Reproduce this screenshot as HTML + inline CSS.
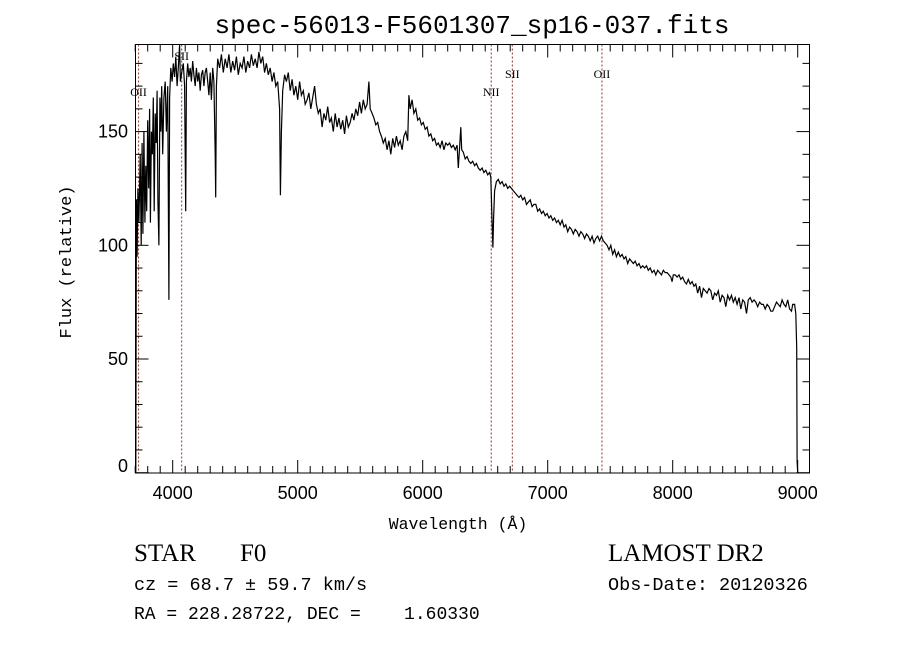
<!DOCTYPE html>
<html><head><meta charset="utf-8"><style>
html,body{margin:0;padding:0;background:#fff;}
svg{display:block;}
</style></head><body>
<svg width="900" height="649" viewBox="0 0 900 649" id="chart">
<rect x="0" y="0" width="900" height="649" fill="#fff"/>
<text x="472" y="33" text-anchor="middle" font-family="Liberation Mono, monospace" font-size="26">spec-56013-F5601307_sp16-037.fits</text>
<g id="lines"></g>
<g id="axes"></g>
<polyline id="spec" fill="none" stroke="#000" stroke-width="1.2"/>
<rect x="135.5" y="44.5" width="674" height="428.5" fill="none" stroke="#000" stroke-width="1"/>
<text x="458" y="529" text-anchor="middle" font-family="Liberation Mono, monospace" font-size="16.5">Wavelength (Å)</text>
<text transform="translate(71,262) rotate(-90)" text-anchor="middle" font-family="Liberation Mono, monospace" font-size="17">Flux (relative)</text>
<text x="134" y="561" font-family="Liberation Serif, serif" font-size="25">STAR</text>
<text x="240" y="561" font-family="Liberation Serif, serif" font-size="25">F0</text>
<text x="134" y="590" font-family="Liberation Mono, monospace" font-size="18.5">cz = 68.7 ± 59.7 km/s</text>
<text x="134" y="619" font-family="Liberation Mono, monospace" font-size="18" xml:space="preserve">RA = 228.28722, DEC =    1.60330</text>
<text x="608" y="561" font-family="Liberation Serif, serif" font-size="25">LAMOST DR2</text>
<text x="608" y="590" font-family="Liberation Mono, monospace" font-size="18.5">Obs-Date: 20120326</text>
</svg>
<script>
const xTicks=[4000,5000,6000,7000,8000,9000];
const yTicks=[0,50,100,150];
const lineNames=["OII","SII","NII","SII","OII"];
const lineWaves=[3727,4072,6548,6717,7434];
const lineLabelY=[96,60,96,78,78];
const waves=[3700,3705,3710,3715,3722,3730,3740,3748,3755,3762,3770,3778,3785,3792,3800,3808,3815,3822,3830,3838,3845,3852,3860,3868,3875,3882,3890,3898,3905,3912,3920,3930,3940,3950,3960,3970,3975,3985,3995,4005,4015,4025,4035,4045,4055,4062,4072,4085,4095,4104,4110,4120,4130,4140,4150,4160,4170,4180,4190,4200,4210,4220,4230,4240,4250,4260,4270,4280,4290,4300,4310,4320,4330,4340,4344,4350,4360,4375,4390,4405,4420,4435,4450,4465,4480,4495,4510,4525,4540,4555,4570,4585,4600,4615,4630,4645,4660,4675,4690,4705,4720,4735,4750,4765,4780,4795,4810,4825,4840,4855,4862,4870,4880,4895,4910,4925,4940,4955,4970,4985,5000,5015,5030,5045,5060,5075,5090,5105,5120,5135,5150,5165,5180,5195,5210,5225,5240,5255,5270,5285,5300,5315,5330,5345,5360,5375,5390,5405,5420,5435,5450,5465,5480,5495,5510,5525,5540,5555,5570,5580,5595,5610,5625,5640,5655,5670,5685,5700,5715,5730,5745,5760,5775,5790,5805,5820,5835,5850,5865,5880,5890,5900,5915,5930,5945,5960,5975,5990,6005,6020,6035,6050,6065,6080,6095,6110,6125,6140,6155,6170,6185,6200,6215,6230,6245,6260,6275,6285,6295,6305,6312,6325,6340,6355,6370,6385,6400,6415,6430,6445,6460,6475,6490,6505,6520,6535,6545,6555,6562,6567,6575,6590,6605,6620,6635,6650,6665,6680,6695,6710,6725,6740,6755,6770,6785,6800,6815,6830,6845,6860,6875,6890,6905,6920,6935,6950,6965,6980,6995,7010,7025,7040,7055,7070,7085,7100,7115,7130,7145,7160,7175,7190,7205,7220,7235,7250,7265,7280,7295,7310,7325,7340,7355,7370,7385,7400,7415,7430,7445,7460,7475,7490,7505,7520,7535,7550,7565,7580,7595,7610,7625,7640,7655,7670,7685,7700,7715,7730,7745,7760,7775,7790,7805,7820,7835,7850,7865,7880,7895,7910,7925,7940,7955,7970,7985,7995,8005,8020,8035,8050,8065,8080,8095,8110,8125,8140,8155,8170,8185,8200,8215,8230,8245,8260,8275,8290,8305,8320,8335,8350,8365,8380,8395,8410,8425,8440,8455,8470,8485,8500,8515,8530,8545,8560,8575,8590,8605,8620,8635,8650,8665,8680,8695,8710,8725,8740,8755,8770,8785,8800,8815,8830,8845,8860,8875,8890,8905,8920,8935,8950,8960,8975,8985,8992,8995,9000];
const flux=[0,0,120,95,125,110,140,100,145,105,150,110,135,115,155,125,160,110,150,140,165,115,158,145,168,120,100,165,150,170,140,165,172,150,170,76,165,178,172,180,174,183,170,178,188,172,176,180,170,115,172,180,174,178,172,181,175,170,178,172,176,168,175,177,170,176,178,172,166,176,164,178,172,140,121,170,182,178,184,176,182,178,184,176,181,177,183,175,180,178,183,176,181,178,184,179,182,178,185,180,183,176,180,175,178,172,176,170,172,160,122,150,168,175,172,176,168,173,166,170,164,172,166,168,162,164,167,160,165,170,162,158,160,152,158,155,161,154,156,150,158,152,156,151,155,149,157,152,154,158,155,160,157,163,158,164,160,162,172,160,158,156,153,154,150,148,145,147,142,146,140,147,143,148,144,146,142,148,150,146,166,160,164,158,160,155,156,153,154,151,152,148,149,146,147,144,145,143,146,142,145,144,145,143,144,142,144,134,143,152,142,141,138,139,137,136,137,135,136,134,133,134,132,133,131,132,130,110,99,112,124,128,129,127,128,126,127,125,126,125,124,123,122,121,122,120,121,118,119,120,117,118,118,115,116,114,115,113,114,112,113,111,112,110,111,109,111,108,109,106,108,107,105,107,106,104,106,105,103,105,104,102,104,101,103,104,102,104,102,101,100,98,100,96,98,95,97,95,96,94,95,92,94,93,92,93,91,92,90,91,90,91,89,90,88,89,87,89,88,87,89,88,88,87,86,84,87,87,86,87,85,86,84,83,85,83,84,82,83,79,82,77,81,80,79,81,80,76,79,78,80,75,78,77,73,78,76,78,75,77,74,77,72,76,75,70,76,77,75,76,75,73,75,74,74,72,74,73,71,71,73,75,74,73,76,74,73,76,72,71,74,74,70,55,5,0];

const NS='http://www.w3.org/2000/svg';
const X0=135.5,X1=809.5,Y0=44.5,Y1=473;
const W0=5000-(297.7-X0)/0.125, W1=5000+(X1-297.7)/0.125;
const F0=(472.7-Y1)/2.274, F1=(472.7-Y0)/2.274;
function xs(w){return X0+(w-W0)/(W1-W0)*(X1-X0);}
function ys(f){return Y1-(f-F0)/(F1-F0)*(Y1-Y0);}
function mk(tag,attrs,parent){const e=document.createElementNS(NS,tag);for(const k in attrs)e.setAttribute(k,attrs[k]);parent.appendChild(e);return e;}

const axes=document.getElementById('axes');
for(let w=3700;w<=9000;w+=100){
  const major=w%1000===0;const L=major?13:7;const x=xs(w);
  const t1=mk('line',{x1:x,x2:x,y1:Y1,y2:Y1-L,stroke:'#000','stroke-width':1},axes);
  
  
  const t2=mk('line',{x1:x,x2:x,y1:Y0,y2:Y0+L,stroke:'#000','stroke-width':1},axes);
  
  
}
xTicks.forEach(w=>{
  const t=mk('text',{x:xs(w),y:499,'text-anchor':'middle','font-family':'Liberation Sans, sans-serif','font-size':18},axes);
  t.textContent=w;
  
  
});
for(let f=0;f<=180;f+=10){
  const major=f%50===0;const L=major?13:7;const y=ys(f);
  const t1=mk('line',{x1:X0,x2:X0+L,y1:y,y2:y,stroke:'#000','stroke-width':1},axes);
  
  
  const t2=mk('line',{x1:X1,x2:X1-L,y1:y,y2:y,stroke:'#000','stroke-width':1},axes);
  
  
}
yTicks.forEach(f=>{
  const t=mk('text',{x:128,y:Math.min(ys(f)+6,472),'text-anchor':'end','font-family':'Liberation Sans, sans-serif','font-size':18},axes);
  t.textContent=f;
  
  
});
const lg=document.getElementById('lines');
lineWaves.forEach((w,i)=>{
  const x=xs(w);
  const l=mk('line',{x1:x,x2:x,y1:Y0,y2:Y1,stroke:'#8b3a2a','stroke-width':1,'stroke-dasharray':'2,2'},lg);
  
  
  const t=mk('text',{x:x,y:lineLabelY[i],'text-anchor':'middle','font-family':'Liberation Serif, serif','font-size':12},lg);
  t.textContent=lineNames[i];
  
  
});
document.getElementById('spec').setAttribute('points',waves.map((w,i)=>xs(w).toFixed(1)+','+ys(flux[i]).toFixed(1)).join(' '));
</script>
</body></html>
